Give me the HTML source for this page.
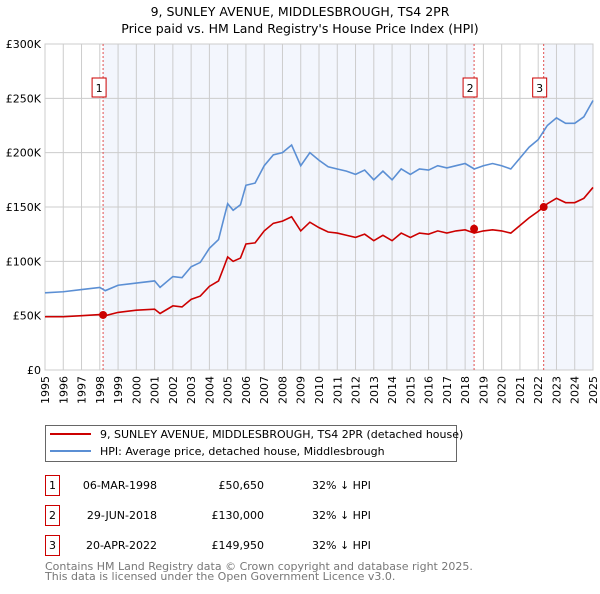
<!DOCTYPE html>
<html><head><meta charset="utf-8"><style>
body{margin:0;background:#fff;font-family:"DejaVu Sans","Liberation Sans",sans-serif;}
svg text{font-family:"DejaVu Sans","Liberation Sans",sans-serif;}
</style></head><body>
<svg id="c" width="600" height="590" xmlns="http://www.w3.org/2000/svg">
<text x="300" y="16" text-anchor="middle" font-size="12.5" fill="#000">9, SUNLEY AVENUE, MIDDLESBROUGH, TS4 2PR</text>
<text x="300" y="33" text-anchor="middle" font-size="12.5" fill="#000">Price paid vs. HM Land Registry's House Price Index (HPI)</text>
<g id="plot"></g>
<g>
<rect x="45.5" y="425.5" width="411" height="36" fill="#fff" stroke="#666"/>
<line x1="50" y1="434" x2="91" y2="434" stroke="#cc0000" stroke-width="2"/>
<text x="100" y="438" font-size="11">9, SUNLEY AVENUE, MIDDLESBROUGH, TS4 2PR (detached house)</text>
<line x1="50" y1="451" x2="91" y2="451" stroke="#5b8fd4" stroke-width="2"/>
<text x="100" y="455" font-size="11">HPI: Average price, detached house, Middlesbrough</text>
</g>
<g id="tbl" font-size="11"></g>
<text x="45" y="570" font-size="11" fill="#777">Contains HM Land Registry data © Crown copyright and database right 2025.</text>
<text x="45" y="580" font-size="11" fill="#777">This data is licensed under the Open Government Licence v3.0.</text>
</svg>
<script>
const yTicks=[0,50,100,150,200,250,300];
const yTickLabels=["£0","£50K","£100K","£150K","£200K","£250K","£300K"];
const years=[1995,1996,1997,1998,1999,2000,2001,2002,2003,2004,2005,2006,2007,2008,2009,2010,2011,2012,2013,2014,2015,2016,2017,2018,2019,2020,2021,2022,2023,2024,2025];
const hpiT=[1995,1996,1997,1998,1998.3,1999,2000,2001,2001.3,2002,2002.5,2003,2003.5,2004,2004.5,2004.8,2005,2005.3,2005.7,2006,2006.5,2007,2007.5,2008,2008.5,2009,2009.5,2010,2010.5,2011,2011.5,2012,2012.5,2013,2013.5,2014,2014.5,2015,2015.5,2016,2016.5,2017,2017.5,2018,2018.5,2019,2019.5,2020,2020.5,2021,2021.5,2022,2022.5,2023,2023.5,2024,2024.5,2025];
const hpiV=[71,72,74,76,73,78,80,82,76,86,85,95,99,112,120,140,153,147,152,170,172,188,198,200,207,188,200,193,187,185,183,180,184,175,183,175,185,180,185,184,188,186,188,190,185,188,190,188,185,195,205,212,225,232,227,227,233,248];
const ppV=[49,49,50,51,50,53,55,56,52,59,58,65,68,77,82,95,104,100,103,116,117,128,135,137,141,128,136,131,127,126,124,122,125,119,124,119,126,122,126,125,128,126,128,129,126,128,129,128,126,133,140,146,153,158,154,154,158,168];
const saleT=[1998.18,2018.49,2022.3];
const saleV=[50.65,130,149.95];
const saleDates=["06-MAR-1998","29-JUN-2018","20-APR-2022"];
const salePrices=["£50,650","£130,000","£149,950"];
const saleDiff=["32% ↓ HPI","32% ↓ HPI","32% ↓ HPI"];
const X0=45,X1=593,Y0=370,Y1=44;
const xs=t=>X0+(t-1995)*(X1-X0)/30;
const ys=v=>Y0-v*(Y0-Y1)/300;
const NS="http://www.w3.org/2000/svg";
const plot=document.getElementById('plot');
function mk(tag,a,p){const e=document.createElementNS(NS,tag);for(const k in a)e.setAttribute(k,a[k]);(p||plot).appendChild(e);return e;}
let s1=mk('rect',{x:xs(saleT[0]),y:Y1,width:xs(saleT[1])-xs(saleT[0]),height:Y0-Y1,fill:'#f3f6fd'});


let s2=mk('rect',{x:xs(saleT[2]),y:Y1,width:X1-xs(saleT[2]),height:Y0-Y1,fill:'#f3f6fd'});


years.forEach((y,i)=>{
 let g=mk('line',{x1:xs(y),x2:xs(y),y1:Y1,y2:Y0,stroke:'#ccc','stroke-width':1});
 
 
 let t=mk('text',{x:0,y:0,'font-size':11,'text-anchor':'end',transform:`translate(${xs(y)+4},${Y0+6}) rotate(-90)`});
 t.textContent=y;
 
 
});
yTicks.forEach((v,i)=>{
 let g=mk('line',{x1:X0,x2:X1,y1:ys(v),y2:ys(v),stroke:'#ccc','stroke-width':1});
 
 
 let t=mk('text',{x:X0-4,y:ys(v)+4,'font-size':11,'text-anchor':'end'});
 t.textContent=yTickLabels[i];
 
 
});
let fr=mk('rect',{x:X0,y:Y1,width:X1-X0,height:Y0-Y1,fill:'none',stroke:'#ccc'});


saleT.forEach((t,i)=>{
 let l=mk('line',{x1:xs(t),x2:xs(t),y1:Y1,y2:Y0,stroke:'#e05050','stroke-dasharray':'2,2','stroke-width':1});
 
 
 let b=mk('rect',{x:xs(t)-11,y:78,width:14,height:19,fill:'#fff',stroke:'#cc0000'});
 
 
 let tx=mk('text',{x:xs(t)-4,y:92,'font-size':11,'text-anchor':'middle'});
 tx.textContent=i+1;
 
 
});
let hp=mk('polyline',{points:hpiT.map((t,i)=>xs(t)+','+ys(hpiV[i])).join(' '),fill:'none',stroke:'#5b8fd4','stroke-width':1.6});


let pp=mk('polyline',{points:hpiT.map((t,i)=>xs(t)+','+ys(ppV[i])).join(' '),fill:'none',stroke:'#cc0000','stroke-width':1.6});


saleT.forEach((t,i)=>{
 let d=mk('circle',{cx:xs(t),cy:ys(saleV[i]),r:4,fill:'#cc0000'});
 
 
});
const tbl=document.getElementById('tbl');
saleT.forEach((t,i)=>{
 const y=475+i*30;
 let b=mk('rect',{x:45.5,y:y+0.5,width:14,height:20,fill:'#fff',stroke:'#cc0000'},tbl);
 
 
 let n=mk('text',{x:52.5,y:y+14,'text-anchor':'middle'},tbl);n.textContent=i+1;
 
 
 let d=mk('text',{x:157,y:y+14,'text-anchor':'end'},tbl);d.textContent=saleDates[i];
 
 
 let p=mk('text',{x:264,y:y+14,'text-anchor':'end'},tbl);p.textContent=salePrices[i];
 
 
 let h=mk('text',{x:312,y:y+14},tbl);h.textContent=saleDiff[i];
 
 
});
</script>
</body></html>
